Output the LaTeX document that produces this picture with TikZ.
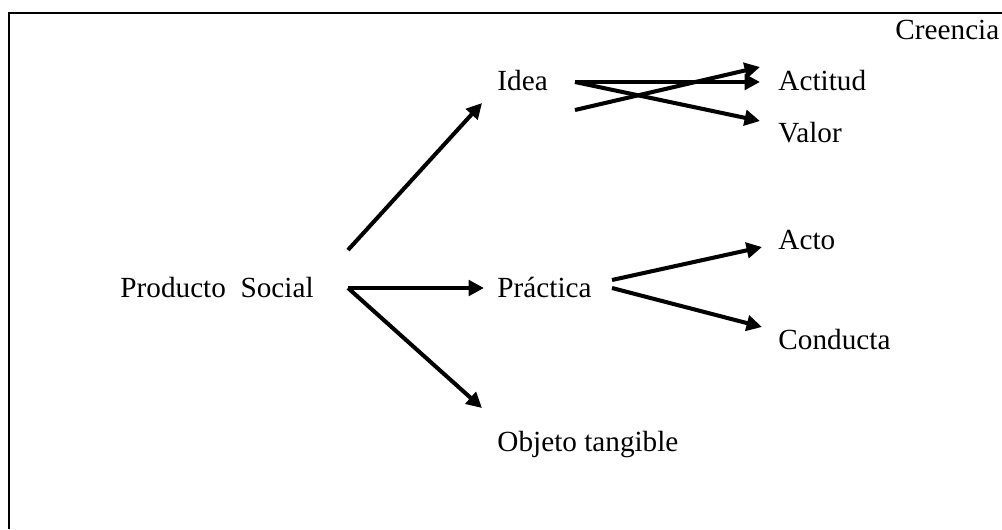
\documentclass[tikz,border=0pt]{standalone}
\usepackage{fontspec}
\setmainfont{Liberation Serif}
\usetikzlibrary{arrows.meta,positioning}

\tikzset{
  flecha/.style={line width=1.7pt,-{Triangle[length=6.5pt,width=6.5pt]}},
  etiq/.style={anchor=base west,inner sep=0pt,font=\fontsize{12.3}{14}\selectfont}
}

\begin{document}
\begin{tikzpicture}[x=0.421pt,y=-0.421pt]
\useasboundingbox (0,0) rectangle (1002,529);
\draw[line width=1.1pt] (9,529) -- (9,13) -- (1002,13);

% textos
\node[etiq](prod) at (120,297){Producto\ \ Social};
\foreach \t/\x/\y [count=\n] in {Creencia/895/39,Idea/497/90,Actitud/778/90,Valor/778/142,Práctica/497/297,Acto/778/249,Conducta/778/349,Objeto tangible/497/451}
  \node[etiq](N\n) at (\x,\y){\t};

% puntos de las flechas
\coordinate (s1) at (348,250);
\coordinate (s2) at (348,288);
\coordinate (e1) at (482,103);
\coordinate (e2) at (484,288);
\coordinate (e3) at (482,408);
\coordinate (i1) at (575,82);
\coordinate (i2) at (575,110);
\coordinate (a1) at (760,82);
\coordinate (a2) at (760,67);
\coordinate (v1) at (760,121);
\coordinate (p1) at (612,280);
\coordinate (p2) at (612,288);
\coordinate (c1) at (762,247);
\coordinate (c2) at (762,327);

\draw[flecha] (s1) -- (e1);
\draw[flecha] (s2) -- (e2);
\draw[flecha] (s2) -- (e3);
\draw[flecha] (i1) -- (a1);
\draw[flecha] (i1) -- (v1);
\draw[flecha] (i2) -- (a2);
\draw[flecha] (p1) -- (c1);
\draw[flecha] (p2) -- (c2);
\end{tikzpicture}
\end{document}
